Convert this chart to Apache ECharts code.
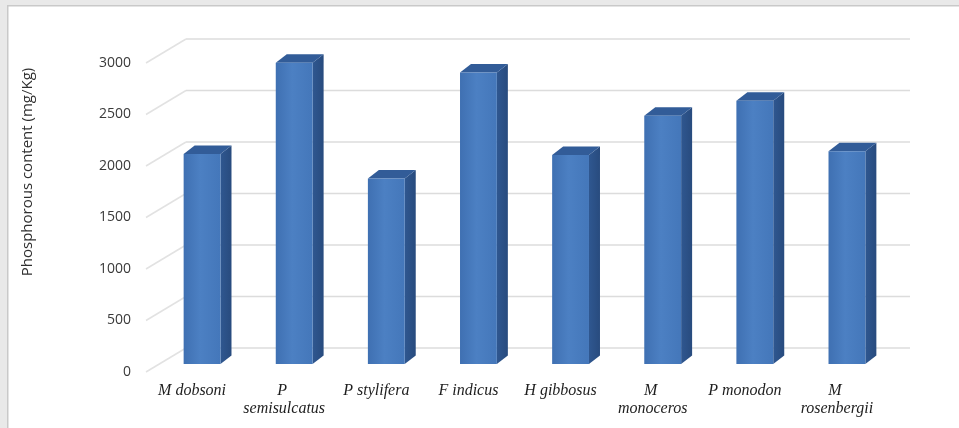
<!DOCTYPE html>
<html>
<head>
<meta charset="utf-8">
<script src="https://cdn.jsdelivr.net/npm/echarts@6/dist/echarts.min.js"></script>
<style>
html,body{margin:0;padding:0;background:#e9e9e9;}
#chart{width:959px;height:428px;}
</style>
</head>
<body>
<div id="chart"></div>
<script>
// ---- data ----
var categories = ['M dobsoni', 'P semisulcatus', 'P stylifera', 'F indicus', 'H gibbosus', 'M monoceros', 'P monodon', 'M rosenbergii'];
var phosphorus = [2040, 2925, 1800, 2830, 2030, 2410, 2555, 2065];
var yTicks = [0, 500, 1000, 1500, 2000, 2500, 3000];
var yTitle = 'Phosphorous content (mg/Kg)';

// ---- styling constants ----
var WALL_DX = 40, WALL_DY = -24;      // floor depth (front -> back wall)
var BAR_OX = 10, BAR_OY = -8;         // bar front plane offset from label plane
var BAR_DX = 11, BAR_DY = -8.5;       // bar depth
var BACK_RIGHT_EXTRA = 27;

var chart = echarts.init(document.getElementById('chart'));

function renderGrid(params, api) {
  var cs = params.coordSys;
  var v = api.value(0);
  var y = api.coord([0, v])[1];
  var x0 = cs.x;
  var xb = cs.x + WALL_DX;
  var xr = cs.x + cs.width + BACK_RIGHT_EXTRA;
  return {
    type: 'group',
    children: [
      { type: 'line', shape: { x1: x0, y1: y, x2: xb, y2: y + WALL_DY },
        style: { stroke: '#e2e2e2', lineWidth: 1.5 } },
      { type: 'line', shape: { x1: xb, y1: y + WALL_DY, x2: xr, y2: y + WALL_DY },
        style: { stroke: '#dcdcdc', lineWidth: 1.5 } }
    ]
  };
}

function renderBar(params, api) {
  var idx = api.value(0);
  var val = api.value(1);
  var top = api.coord([idx, val]);
  var base = api.coord([idx, 0]);
  var slot = api.size([1, 0])[0];
  var bw = slot * 0.4;
  var x0 = top[0] + BAR_OX - bw / 2;
  var x1 = x0 + bw;
  var yT = top[1] + BAR_OY;
  var yB = base[1] + BAR_OY;
  return {
    type: 'group',
    children: [
      { type: 'polygon',
        shape: { points: [[x1, yT], [x1 + BAR_DX, yT + BAR_DY], [x1 + BAR_DX, yB + BAR_DY], [x1, yB]] },
        style: { fill: new echarts.graphic.LinearGradient(0, 0, 1, 0, [
          { offset: 0, color: '#2f5790' }, { offset: 1, color: '#284b7e' }]) } },
      { type: 'polygon',
        shape: { points: [[x0, yT], [x0 + BAR_DX, yT + BAR_DY], [x1 + BAR_DX, yT + BAR_DY], [x1, yT]] },
        style: { fill: '#325c98' } },
      { type: 'rect',
        shape: { x: x0, y: yT, width: bw, height: yB - yT },
        style: { fill: new echarts.graphic.LinearGradient(0, 0, 1, 0, [
          { offset: 0, color: '#3f70b2' }, { offset: 0.45, color: '#4c80c3' }, { offset: 1, color: '#4477ba' }]) } }
    ]
  };
}

var option = {
  backgroundColor: '#e9e9e9',
  animation: false,
  graphic: [
    { type: 'rect', left: 7, top: 5, z: -10,
      shape: { width: 960, height: 430 },
      style: { fill: '#ffffff', stroke: '#c9c9c9', lineWidth: 1.5 } },
    { type: 'text', x: 28, y: 172, rotation: Math.PI / 2, z: 10,
      style: { text: yTitle, fontFamily: 'Open Sans', fontSize: 15, fill: '#303030',
               align: 'center', verticalAlign: 'middle' } }
  ],
  grid: { left: 146, right: 76, top: 63, bottom: 56, outerBoundsMode: 'none', containLabel: false },
  xAxis: {
    type: 'category',
    data: categories,
    axisLine: { show: false },
    axisTick: { show: false },
    axisLabel: {
      interval: 0, margin: 10,
      fontFamily: 'Liberation Serif', fontStyle: 'italic', fontSize: 16, color: '#1e1e1e',
      width: 85, overflow: 'break', lineHeight: 18
    }
  },
  yAxis: {
    type: 'value', min: 0, max: 3000, interval: 500,
    axisLine: { show: false }, axisTick: { show: false }, splitLine: { show: false },
    axisLabel: { margin: 15, fontFamily: 'Open Sans', fontSize: 14, color: '#3a3a3a',
                 formatter: function (v) { return String(v); } }
  },
  series: [
    { type: 'custom', z: 1, renderItem: renderGrid, data: yTicks.map(function (v) { return [v]; }),
      encode: { y: 0 }, silent: true },
    { type: 'custom', z: 2, renderItem: renderBar,
      data: phosphorus.map(function (v, i) { return [i, v]; }),
      encode: { x: 0, y: 1 } }
  ]
};
chart.setOption(option);
</script>
</body>
</html>
